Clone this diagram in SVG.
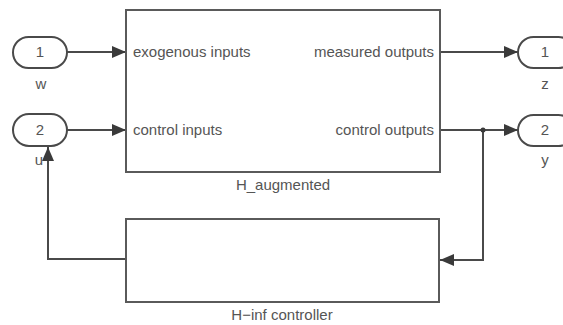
<svg xmlns="http://www.w3.org/2000/svg" width="563" height="325" viewBox="0 0 563 325">
<defs>
<style>
.blk{fill:#fff;stroke:#5a5a5a;stroke-width:2}
.port{fill:#fff;stroke:#4a4a4a;stroke-width:2}
.t{font-family:"Liberation Sans",Arial,sans-serif;font-size:15px;fill:#555}
.c{fill:none;stroke:#4a4a4a;stroke-width:2}
</style>
<marker id="ah" viewBox="0 0 14 12" refX="14" refY="6" markerWidth="14" markerHeight="12" markerUnits="userSpaceOnUse" orient="auto">
<path d="M0,0 L14,6 L0,12 Z" fill="#3a3a3a"/>
</marker>
</defs>
<rect width="563" height="325" fill="#fff"/>
<g id="connectors">
<line class="c" x1="67" y1="52" x2="126" y2="52" marker-end="url(#ah)"/>
<line class="c" x1="67" y1="130" x2="126" y2="130" marker-end="url(#ah)"/>
<line class="c" x1="440" y1="52" x2="518" y2="52" marker-end="url(#ah)"/>
<line class="c" x1="440" y1="130" x2="518" y2="130" marker-end="url(#ah)"/>
<polyline class="c" points="483,130 483,260 440,260" marker-end="url(#ah)"/>
<polyline class="c" points="126,259 48,259 48,147" marker-end="url(#ah)"/>
<circle cx="483" cy="130" r="2.5" fill="#3a3a3a"/>
</g>
<g id="H_augmented">
<rect class="blk" x="126" y="10" width="314" height="162"/>
<text class="t" x="133" y="57">exogenous inputs</text>
<text class="t" x="133" y="135">control inputs</text>
<text class="t" x="434" y="57" text-anchor="end">measured outputs</text>
<text class="t" x="434" y="135" text-anchor="end">control outputs</text>
<text class="t" x="283" y="190" text-anchor="middle">H_augmented</text>
</g>
<g id="H_inf_controller">
<rect class="blk" x="126" y="219" width="313" height="83"/>
<text class="t" x="282" y="320" text-anchor="middle">H−inf controller</text>
</g>
<g id="in_w">
<rect class="port" x="13" y="37" width="54" height="31" rx="15.5"/>
<text class="t" x="40" y="57" text-anchor="middle">1</text>
<text class="t" x="41" y="89" text-anchor="middle">w</text>
</g>
<g id="in_u">
<rect class="port" x="13" y="114" width="54" height="32" rx="16"/>
<text class="t" x="40" y="135" text-anchor="middle">2</text>
<text class="t" x="39" y="165" text-anchor="middle">u</text>
</g>
<g id="out_z">
<rect class="port" x="518" y="37" width="56" height="31" rx="15.5"/>
<text class="t" x="545" y="57" text-anchor="middle">1</text>
<text class="t" x="545" y="89" text-anchor="middle">z</text>
</g>
<g id="out_y">
<rect class="port" x="518" y="115" width="56" height="31" rx="15.5"/>
<text class="t" x="545" y="135" text-anchor="middle">2</text>
<text class="t" x="545" y="165" text-anchor="middle">y</text>
</g>
</svg>
